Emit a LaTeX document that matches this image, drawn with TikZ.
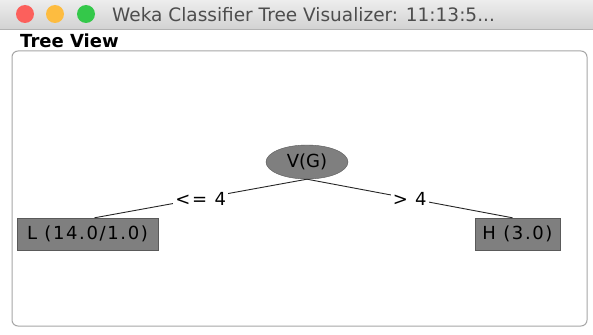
\documentclass[tikz,border=0pt]{standalone}
\usepackage{fontspec}
\setmainfont{DejaVu Sans}
\usepackage{xcolor}
\usetikzlibrary{shapes.geometric, positioning}
\definecolor{wekagray}{HTML}{7F7F7F}
\definecolor{wekaedge}{HTML}{5A5A5A}
\definecolor{barlight}{HTML}{EDEDED}
\definecolor{bardark}{HTML}{D2D2D2}
\definecolor{titlegray}{HTML}{4D4D4D}
\definecolor{macred}{HTML}{FC605C}
\definecolor{macyellow}{HTML}{FDBC40}
\definecolor{macgreen}{HTML}{34C84A}
\newfontfamily\spacedfont[LetterSpace=9]{DejaVu Sans}

\begin{document}
\begin{tikzpicture}[
    x=1pt, y=-1pt,
    split/.style={ellipse, draw=wekaedge, fill=wekagray, minimum width=82pt,
                 minimum height=34pt, inner sep=0pt, font=\fontsize{18}{20}\selectfont},
    leaf/.style={rectangle, draw=wekaedge, fill=wekagray, minimum height=32pt,
                 inner sep=0pt, font=\spacedfont\fontsize{18}{20}\selectfont},
    branch/.style={draw=black!85, line width=0.9pt},
    cond/.style={fill=white, inner sep=2pt, font=\spacedfont\fontsize{18}{20}\selectfont},
    light/.style={circle, minimum size=18pt, inner sep=0pt}
]
\useasboundingbox (0,0) rectangle (593,334);
\fill[white] (0,0) rectangle (593,334);

% Title bar
\shade[top color=barlight, bottom color=bardark] (0,0) rectangle (593,29);
\draw[black!30] (0,29) -- (593,29);
\node[light, fill=macred] at (25,14) (btn-close) {};
\node[light, fill=macyellow] at (55,14) (btn-min) {};
\node[light, fill=macgreen] at (86,14) (btn-max) {};
\node[anchor=west, text=titlegray, font=\fontsize{18.5}{20}\selectfont, inner sep=0pt]
    at (112,15) (title) {Weka Classifier Tree Visualizer: 11:13:5...};

% Panel
\node[anchor=west, font=\fontsize{18}{20}\selectfont\bfseries, inner sep=0pt]
    at (20,41) (panel-title) {Tree View};
\draw[black!35, line width=1pt, rounded corners=6pt] (12,51) rectangle (587,326);

% Tree
\node[split] at (307,162) (root) {V(G)};
\node[leaf, minimum width=141pt] at (87.5,234) (leaf-l) {L (14.0/1.0)};
\node[leaf, minimum width=85pt] at (517.5,234) (leaf-h) {H (3.0)};

% Branches
\draw[branch] (root.south) -- node[cond] {<= 4} ([xshift=7pt]leaf-l.north);
\draw[branch] (root.south) -- node[cond] {> 4} ([xshift=-5pt]leaf-h.north);

\end{tikzpicture}
\end{document}
